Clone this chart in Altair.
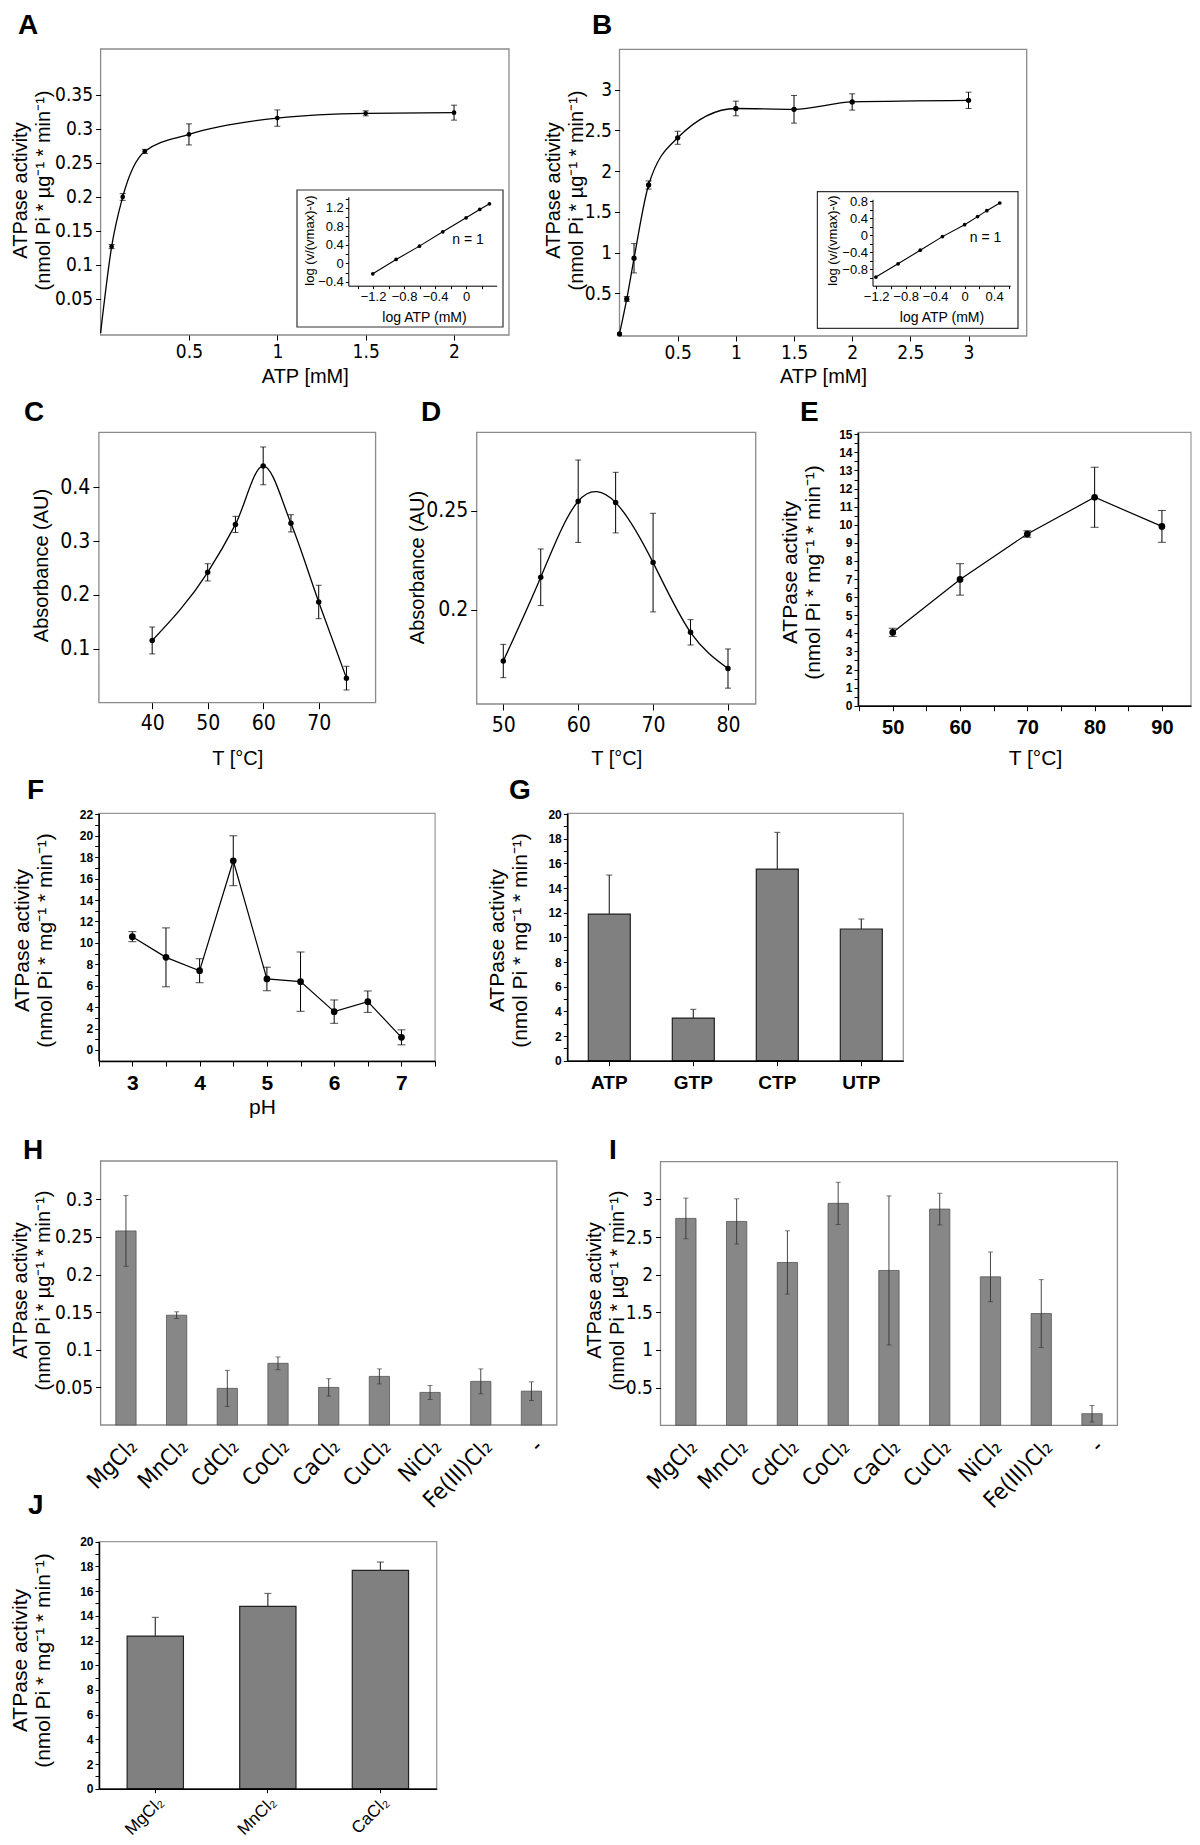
import altair as alt
import pandas as pd

# ---------------- data ----------------
A_atp = [0, 0.0625, 0.125, 0.25, 0.5, 1, 1.5, 2]
A_act = [0, 0.127, 0.200, 0.267, 0.292, 0.316, 0.323, 0.324]
A_err = [0, 0.003, 0.005, 0.003, 0.0155, 0.012, 0.0037, 0.011]
A_log_atp = [-1.204, -0.903, -0.602, -0.301, 0.0, 0.176, 0.301]
A_hill = [-0.227, 0.083, 0.371, 0.681, 0.984, 1.164, 1.286]

B_atp = [0, 0.0625, 0.125, 0.25, 0.5, 1, 1.5, 2, 3]
B_act = [0, 0.43, 0.93, 1.83, 2.41, 2.77, 2.76, 2.85, 2.87]
B_err = [0, 0.03, 0.18, 0.05, 0.08, 0.09, 0.17, 0.10, 0.10]
B_log_atp = [-1.204, -0.903, -0.602, -0.301, 0.0, 0.176, 0.301, 0.477]
B_hill = [-0.98, -0.67, -0.35, -0.03, 0.25, 0.44, 0.58, 0.76]

C_temp = [40, 50, 55, 60, 65, 70, 75]
C_abs = [0.1155, 0.242, 0.331, 0.4396, 0.333, 0.187, 0.0456]
C_err = [0.025, 0.016, 0.015, 0.035, 0.016, 0.031, 0.022]

D_temp = [50, 55, 60, 65, 70, 75, 80]
D_abs = [0.1742, 0.2165, 0.2549, 0.2542, 0.2239, 0.1887, 0.1704]
D_err = [0.0084, 0.0143, 0.0208, 0.0153, 0.0249, 0.0064, 0.0099]

E_temp = [50, 60, 70, 80, 90]
E_act = [4.05, 6.98, 9.49, 11.52, 9.91]
E_err = [0.23, 0.87, 0.18, 1.66, 0.88]

F_ph = [3, 3.5, 4, 4.5, 5, 5.5, 6, 6.5, 7]
F_act = [10.58, 8.65, 7.40, 17.67, 6.63, 6.38, 3.58, 4.51, 1.18]
F_err = [0.47, 2.75, 1.12, 2.33, 1.10, 2.77, 1.09, 1.00, 0.70]

G_ntp = ["ATP", "GTP", "CTP", "UTP"]
G_act = [11.89, 3.46, 15.54, 10.68]
G_err = [3.16, 0.70, 2.97, 0.81]

HI_salt = ["MgCl₂", "MnCl₂", "CdCl₂", "CoCl₂", "CaCl₂", "CuCl₂", "NiCl₂", "Fe(III)Cl₂", "-"]
H_act = [0.258, 0.146, 0.0487, 0.082, 0.050, 0.0646, 0.0433, 0.058, 0.045]
H_err = [0.047, 0.0045, 0.024, 0.0085, 0.0115, 0.010, 0.0093, 0.0166, 0.0124]
I_act = [2.747, 2.707, 2.162, 2.947, 2.056, 2.871, 1.971, 1.484, 0.154]
I_err = [0.27, 0.30, 0.42, 0.28, 0.99, 0.21, 0.33, 0.45, 0.11]

J_salt = ["MgCl₂", "MnCl₂", "CaCl₂"]
J_act = [12.36, 14.76, 17.68]
J_err = [1.51, 1.05, 0.67]

# tick values
A_xticks = [0.5, 1, 1.5, 2]
A_yticks = [0.05, 0.1, 0.15, 0.2, 0.25, 0.3, 0.35]
A_in_xticks = [-1.4, -1.2, -1.0, -0.8, -0.6, -0.4, -0.2, 0, 0.2]
A_in_yticks = [-0.4, -0.2, 0, 0.2, 0.4, 0.6, 0.8, 1.0, 1.2, 1.4]
B_xticks = [0.5, 1, 1.5, 2, 2.5, 3]
B_yticks = [0.5, 1, 1.5, 2, 2.5, 3]
B_in_xticks = [-1.2, -1.0, -0.8, -0.6, -0.4, -0.2, 0, 0.2, 0.4, 0.6]
B_in_yticks = [-1.0, -0.8, -0.6, -0.4, -0.2, 0, 0.2, 0.4, 0.6, 0.8]
C_xticks = [40, 50, 60, 70]
C_yticks = [0.1, 0.2, 0.3, 0.4]
D_xticks = [50, 60, 70, 80]
D_yticks = [0.2, 0.25]
E_xticks = [45, 50, 55, 60, 65, 70, 75, 80, 85, 90]
E_yticks = [i / 2 for i in range(31)]
F_xticks = [2.5, 3, 3.5, 4, 4.5, 5, 5.5, 6, 6.5, 7, 7.5]
F_yticks = list(range(0, 23))
G_yticks = list(range(0, 21))
H_yticks = [0.05, 0.1, 0.15, 0.2, 0.25, 0.3]
I_yticks = [0.5, 1, 1.5, 2, 2.5, 3]
J_yticks = list(range(0, 21))

TITLE_UG = ["ATPase activity", "(nmol Pi * µg⁻¹ * min⁻¹)"]
TITLE_MG = ["ATPase activity", "(nmol Pi * mg⁻¹ * min⁻¹)"]

# ---------------- layout helpers ----------------
W, H = 1184, 1837
M = 8  # page margin


def c(v):
    return v - M


NARROW = "Liberation Sans Narrow, Arial Narrow, DejaVu Sans Condensed, Liberation Sans, sans-serif"
SANS = "Liberation Sans, Arial, sans-serif"
LETTER = "Liberation Sans, Arial, sans-serif"
ONE = pd.DataFrame({"k": [0]})

FMT = "format(datum.value, '~g')"
ALL = FMT
EVERY04 = "round(datum.value*10) % 4 == 0 ? " + FMT + " : ''"
INT = "datum.value % 1 == 0 ? " + FMT + " : ''"
EVEN = "datum.value % 2 == 0 ? " + FMT + " : ''"
TENS = "datum.value % 10 == 0 ? " + FMT + " : ''"


def axis(orient, pos, values=None, *, font=NARROW, size=19, weight="normal", tick=5, pad=3,
         domain=False, dwidth=1.5, expr=None, title=None, tx=None, ty=None, tsize=20,
         angle=0, align=None, baseline=None, lh=23):
    p = c(pos)
    kw = dict(orient=orient, grid=False, domain=domain, ticks=True, tickSize=tick,
              tickColor="black", tickWidth=1, labelFont=font, labelFontSize=size,
              labelFontWeight=weight, labelColor="black", labelPadding=pad,
              labelFlush=False, labelOverlap=False, labelAngle=angle, zindex=1)
    if domain:
        kw.update(domainColor="black", domainWidth=dwidth)
    kw["offset"] = (p - H) if orient == "bottom" else -p
    if values is not None:
        kw["values"] = values
    if expr:
        kw["labelExpr"] = expr
    if align:
        kw["labelAlign"] = align
    if baseline:
        kw["labelBaseline"] = baseline
    if title is None:
        kw["title"] = None
    else:
        kw.update(title=title, titleFont=SANS, titleFontSize=tsize, titleFontWeight="normal",
                  titleColor="black", titleLineHeight=lh)
        if orient == "bottom":
            kw.update(titleX=c(tx), titleY=c(ty) - p, titleAngle=0, titleAlign="center",
                      titleBaseline="alphabetic")
        else:
            nlines = len(title) if isinstance(title, list) else 1
            anchor = c(tx) - lh * (nlines - 1)
            kw.update(titleX=anchor - p, titleY=c(ty), titleAngle=270, titleAlign="center",
                      titleBaseline="bottom")
    return alt.Axis(**kw)


def frame(g, color="#8a8a8a", width=1.3, fill=None):
    x0, x1, y0, y1 = g
    if fill:
        mk = alt.Chart(ONE).mark_rect(fill=fill, stroke=color, strokeWidth=width)
    else:
        mk = alt.Chart(ONE).mark_rect(fillOpacity=0, stroke=color, strokeWidth=width)
    return mk.encode(x=alt.value(c(x0)), x2=alt.value(c(x1)), y=alt.value(c(y0)), y2=alt.value(c(y1)))


def text(t, x, y, size=28, font=LETTER, weight="bold", align="left", baseline="alphabetic"):
    return alt.Chart(ONE).mark_text(font=font, fontSize=size, fontWeight=weight, align=align,
                                    baseline=baseline, color="black").encode(
        x=alt.value(c(x)), y=alt.value(c(y)), text=alt.value(t))


def qscale(dom, rng):
    return alt.Scale(domain=dom, range=rng, nice=False, zero=False)


def xy_panel(xs, ys, es, g, xdom, ydom, xax, yax, interp, psize, cap, lw=1.3,
             skip_first=False, frame_color="#8a8a8a", frame_w=1.3, frame_fill=None):
    df = pd.DataFrame({"x": xs, "y": ys, "err": es})
    df["lo"] = df["y"] - df["err"]
    df["hi"] = df["y"] + df["err"]
    x0, x1, y0, y1 = g
    xsc = qscale(xdom, [c(x0), c(x1)])
    ysc = qscale(ydom, [c(y1), c(y0)])
    X = alt.X("x:Q", scale=xsc, axis=xax)

    def Y(f):
        return alt.Y(f + ":Q", scale=ysc, axis=yax)

    layers = []
    if frame_w > 0:
        layers.append(frame(g, frame_color, frame_w, frame_fill))
    layers.append(alt.Chart(df).mark_line(color="black", strokeWidth=lw, interpolate=interp)
                  .encode(x=X, y=Y("y")))
    e = df[df["err"] > 0]
    if len(e):
        layers.append(alt.Chart(e).mark_rule(color="black", strokeWidth=1)
                      .encode(x=X, y=Y("lo"), y2="hi"))
        for f in ("lo", "hi"):
            layers.append(alt.Chart(e).mark_tick(orient="horizontal", size=cap, thickness=1,
                                                 color="black").encode(x=X, y=Y(f)))
    pts = df.iloc[1:] if skip_first else df
    layers.append(alt.Chart(pts).mark_circle(size=psize, color="black", opacity=1)
                  .encode(x=X, y=Y("y")))
    return alt.layer(*layers)


def bar_panel(cats, vals, errs, g, ydom, pin, pout, xax, yax, both, cap,
              fill="#808080", stroke="#222222", sw=1.2, ecolor="#333333", ew=1.2,
              frame_color="#8a8a8a"):
    df = pd.DataFrame({"cat": cats, "y": vals, "err": errs})
    df["lo"] = df["y"] - df["err"] if both else df["y"]
    df["hi"] = df["y"] + df["err"]
    x0, x1, y0, y1 = g
    X = alt.X("cat:N", sort=cats, scale=alt.Scale(range=[c(x0), c(x1)], paddingInner=pin,
                                                  paddingOuter=pout), axis=xax)
    ysc = alt.Scale(domain=ydom, range=[c(y1), c(y0)], nice=False)

    def Y(f):
        return alt.Y(f + ":Q", scale=ysc, axis=yax)

    layers = [frame(g, frame_color, 1.3),
              alt.Chart(df).mark_bar(color=fill, stroke=stroke, strokeWidth=sw).encode(x=X, y=Y("y")),
              alt.Chart(df).mark_rule(color=ecolor, strokeWidth=ew).encode(x=X, y=Y("lo"), y2="hi"),
              alt.Chart(df).mark_tick(orient="horizontal", size=cap, thickness=ew, color=ecolor)
              .encode(x=X, y=Y("hi"))]
    if both:
        layers.append(alt.Chart(df).mark_tick(orient="horizontal", size=cap, thickness=ew,
                                              color=ecolor).encode(x=X, y=Y("lo")))
    return alt.layer(*layers)


# ---------------- panels (geometry in image pixels) ----------------
gA = (100.6, 509, 49, 335)
pA = xy_panel(A_atp, A_act, A_err, gA, [0, 2.311], [-0.003, 0.4176],
              axis("bottom", 335, A_xticks, tick=5, pad=2, expr=ALL, title="ATP [mM]", tx=304.8, ty=382),
              axis("left", 100.6, A_yticks, tick=5, pad=3, expr=ALL, title=TITLE_UG, tx=53.6, ty=190),
              "monotone", 22, 6, skip_first=True)

gAi = (348.3, 496.7, 196.7, 285.7)
pAi = alt.layer(
    frame((297, 503, 190, 327), "#333333", 1.2, "white"),
    xy_panel(A_log_atp, A_hill, [0] * len(A_hill), gAi, [-1.52, 0.395], [-0.484, 1.44],
             axis("bottom", 285.7, A_in_xticks, font=SANS, size=13, tick=3, pad=2, domain=True,
                  dwidth=1, expr=EVERY04, title="log ATP (mM)", tx=424, ty=321, tsize=14),
             axis("left", 348.3, A_in_yticks, font=SANS, size=13, tick=3, pad=2, domain=True,
                  dwidth=1, expr=EVERY04, title="log (v/(vmax)-v)", tx=316, ty=240, tsize=13),
             "linear", 14, 4, lw=1.1, frame_w=0),
    text("n = 1", 468, 240, size=14, font=SANS, weight="normal", align="center", baseline="middle"),
)

gB = (619.5, 1026.7, 49.3, 336)
pB = xy_panel(B_atp, B_act, B_err, gB, [0, 3.5], [-0.025, 3.497],
              axis("bottom", 336, B_xticks, tick=5, pad=2, expr=ALL, title="ATP [mM]", tx=823, ty=382),
              axis("left", 619.5, B_yticks, tick=5, pad=3, expr=ALL, title=TITLE_UG, tx=586, ty=190),
              "monotone", 28, 6)

gBi = (872.5, 1010.3, 199.3, 285.7)
pBi = alt.layer(
    frame((817.4, 1018, 191.7, 328.3), "#333333", 1.2, "white"),
    xy_panel(B_log_atp, B_hill, [0] * len(B_hill), gBi, [-1.25, 0.62], [-1.184, 0.847],
             axis("bottom", 285.7, B_in_xticks, font=SANS, size=13, tick=3, pad=2, domain=True,
                  dwidth=1, expr=EVERY04, title="log ATP (mM)", tx=941.5, ty=321, tsize=14),
             axis("left", 872.5, B_in_yticks, font=SANS, size=13, tick=3, pad=2, domain=True,
                  dwidth=1, expr=EVERY04, title="log (v/(vmax)-v)", tx=839, ty=240, tsize=13),
             "linear", 14, 4, lw=1.1, frame_w=0),
    text("n = 1", 985.5, 238, size=14, font=SANS, weight="normal", align="center", baseline="middle"),
)

gC = (98.9, 375.6, 432.3, 702.7)
pC = xy_panel(C_temp, C_abs, C_err, gC, [30.4, 80.25], [0, 0.502],
              axis("bottom", 702.7, C_xticks, size=21, tick=6, pad=4, expr=ALL, title="T [°C]", tx=237.2, ty=764),
              axis("left", 98.9, C_yticks, size=21, tick=6, pad=3, expr=ALL, title="Absorbance (AU)", tx=51.4, ty=565),
              "monotone", 30, 6)

gD = (476.7, 755.7, 432.3, 704)
pD = xy_panel(D_temp, D_abs, D_err, gD, [46.45, 83.7], [0.1525, 0.2897],
              axis("bottom", 704, D_xticks, size=21, tick=6, pad=4, expr=ALL, title="T [°C]", tx=616.2, ty=764),
              axis("left", 476.7, D_yticks, size=21, tick=6, pad=3, expr=ALL, title="Absorbance (AU)", tx=427, ty=567),
              "natural", 30, 6)

gE = (858, 1191, 432.3, 705.7)
pE = xy_panel(E_temp, E_act, E_err, gE, [44.84, 94.32], [0, 15.11],
              axis("bottom", 705.7, E_xticks, font=SANS, size=20, weight="bold", tick=5, pad=7,
                   domain=True, expr=TENS, title="T [°C]", tx=1035, ty=764, tsize=21),
              axis("left", 858, E_yticks, font=SANS, size=12, weight="bold", tick=4, pad=2,
                   domain=True, expr=INT, title=TITLE_MG, tx=823, ty=572, tsize=21),
              "linear", 45, 8, lw=1.2, frame_color="#9a9a9a", frame_w=1.2)

gF = (98.7, 435.1, 813.3, 1061)
pF = xy_panel(F_ph, F_act, F_err, gF, [2.5, 7.5], [-1.03, 22.1],
              axis("bottom", 1061, F_xticks, font=SANS, size=21, weight="bold", tick=5, pad=6,
                   domain=True, expr=INT, title="pH", tx=262, ty=1113, tsize=21),
              axis("left", 98.7, F_yticks, font=SANS, size=12, weight="bold", tick=4, pad=2,
                   domain=True, expr=EVEN, title=TITLE_MG, tx=55.5, ty=940, tsize=21),
              "linear", 45, 8, lw=1.2, frame_color="#9a9a9a", frame_w=1.2)

gG = (567.3, 903.3, 813.3, 1060.7)
pG = bar_panel(G_ntp, G_act, G_err, gG, [0, 20.06], 0.5, 0.25,
               axis("bottom", 1060.7, None, font=SANS, size=19, weight="bold", tick=5, pad=8,
                    domain=True),
               axis("left", 567.3, G_yticks, font=SANS, size=12, weight="bold", tick=4, pad=2,
                    domain=True, expr=EVEN, title=TITLE_MG, tx=530, ty=940, tsize=21),
               False, 6, frame_color="#9a9a9a")

gH = (100.6, 556.8, 1161, 1425)
pH = bar_panel(HI_salt, H_act, H_err, gH, [0, 0.351], 0.6, 0.3,
               axis("bottom", 1425, None, size=23, tick=0, pad=10, angle=315, align="right",
                    baseline="top"),
               axis("left", 100.6, H_yticks, tick=5, pad=3, expr=ALL, title=TITLE_UG, tx=53.6, ty=1290),
               True, 5, fill="#878787", stroke="#555555", sw=0.8, ecolor="#333333", ew=0.9)

gI = (660.5, 1117.4, 1161.7, 1425.3)
pI = bar_panel(HI_salt, I_act, I_err, gI, [0, 3.5], 0.6, 0.3,
               axis("bottom", 1425.3, None, size=23, tick=0, pad=10, angle=315, align="right",
                    baseline="top"),
               axis("left", 660.5, I_yticks, tick=5, pad=3, expr=ALL, title=TITLE_UG, tx=627, ty=1290),
               True, 5, fill="#878787", stroke="#555555", sw=0.8, ecolor="#333333", ew=0.9)

gJ = (99, 436.7, 1541.7, 1788.7)
pJ = bar_panel(J_salt, J_act, J_err, gJ, [0, 20], 0.5, 0.25,
               axis("bottom", 1788.7, None, font=SANS, size=17, tick=4, pad=1, angle=315,
                    align="right", baseline="top", domain=True),
               axis("left", 99, J_yticks, font=SANS, size=12, weight="bold", tick=4, pad=2,
                    domain=True, expr=EVEN, title=TITLE_MG, tx=53.3, ty=1660, tsize=21),
               False, 7, frame_color="#9a9a9a")

letters = [text("A", 18, 34), text("B", 592, 34), text("C", 24, 421), text("D", 421, 421),
           text("E", 800, 421), text("F", 27, 799), text("G", 509, 799), text("H", 23, 1159),
           text("I", 609, 1159), text("J", 28, 1514)]

chart = alt.layer(pA, pAi, pB, pBi, pC, pD, pE, pF, pG, pH, pI, pJ, *letters).resolve_scale(
    x="independent", y="independent").resolve_axis(x="independent", y="independent").properties(
    width=W, height=H, autosize=alt.AutoSizeParams(type="none"), padding=0,
    background="white").configure_view(strokeWidth=0)

chart.save("out.html", embed_options={"renderer": "svg", "actions": False})
